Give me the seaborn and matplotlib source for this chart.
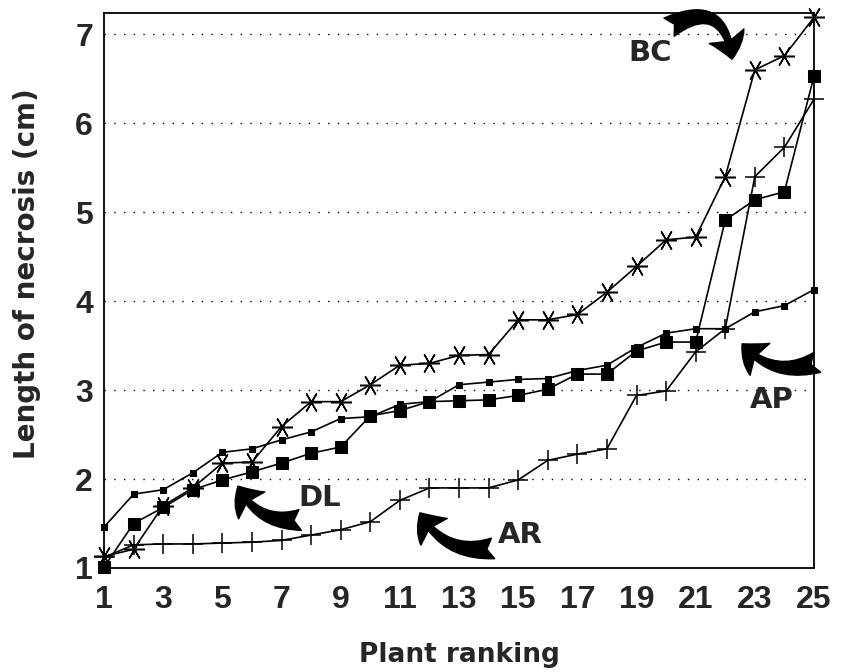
import pandas as pd
import seaborn as sns
import matplotlib.pyplot as plt

# Plant ranking (x) and length of necrosis in cm for each isolate
ranking = list(range(1, 26))
AP = [1.46, 1.83, 1.88, 2.07, 2.30, 2.34, 2.44, 2.53, 2.68, 2.70, 2.84, 2.87, 3.06,
      3.09, 3.12, 3.13, 3.22, 3.28, 3.48, 3.64, 3.69, 3.69, 3.88, 3.95, 4.13]
DL = [1.01, 1.50, 1.68, 1.88, 1.99, 2.08, 2.18, 2.29, 2.36, 2.71, 2.77, 2.87, 2.88,
      2.89, 2.94, 3.01, 3.18, 3.18, 3.44, 3.54, 3.54, 4.91, 5.14, 5.23, 6.53]
BC = [1.13, 1.21, 1.70, 1.90, 2.18, 2.19, 2.59, 2.87, 2.87, 3.06, 3.28, 3.30, 3.39,
      3.40, 3.79, 3.79, 3.85, 4.10, 4.39, 4.69, 4.72, 5.40, 6.60, 6.76, 7.19]
AR = [1.12, 1.26, 1.27, 1.27, 1.28, 1.29, 1.31, 1.37, 1.43, 1.52, 1.76, 1.90, 1.90,
      1.90, 1.99, 2.21, 2.28, 2.34, 2.94, 2.99, 3.43, 3.69, 5.40, 5.73, 6.27]
x_ticks = list(range(1, 26, 2))
y_ticks = [1, 2, 3, 4, 5, 6, 7]

sns.set_theme(style="white")
plt.rcParams['font.family'] = ['Liberation Sans', 'DejaVu Sans']
plt.rcParams['font.weight'] = 'bold'
wide = ['DejaVu Sans']  # the wider face for the axis titles and isolate names

fig = plt.figure(figsize=(8.43, 6.72), dpi=100)
ax = fig.add_axes([0.1234, 0.1548, 0.8422, 0.8259])

styles = {
    'AP': dict(marker='s', markersize=4.5),
    'DL': dict(marker='s', markersize=8),
    'BC': dict(marker=(6, 2, 90), markersize=15, markeredgewidth=1.1),
    'AR': dict(marker='+', markersize=15, markeredgewidth=1.1),
}
series = {'AP': AP, 'DL': DL, 'BC': BC, 'AR': AR}
for name, vals in series.items():
    df = pd.DataFrame({'rank': ranking, 'len': vals})
    sns.lineplot(data=df, x='rank', y='len', ax=ax, color='black', lw=1.2,
                 markeredgecolor='black', markerfacecolor='black', clip_on=False,
                 zorder=3, **styles[name])

ax.set_xlim(1, 25)
ax.set_ylim(1, 7.24)
ax.set_xticks(x_ticks)
ax.set_yticks(y_ticks)
ax.tick_params(axis='x', direction='in', length=9, width=1, color='black',
               labelsize=23, pad=12, labelfontfamily='Liberation Sans')
ax.tick_params(axis='y', length=0, labelsize=23, pad=8, labelfontfamily='Liberation Sans')
for lab in ax.get_xticklabels() + ax.get_yticklabels():
    lab.set_fontweight('bold')
ax.yaxis.grid(True, linestyle=(0, (1, 6)), color='black', lw=1.0)
ax.xaxis.grid(False)
for sp in ax.spines.values():
    sp.set_color('black')
    sp.set_linewidth(1.3)

ax.set_xlabel('Plant ranking', fontsize=19, fontweight='bold', family=wide, labelpad=20)
ax.set_ylabel('Length of necrosis (cm)', fontsize=20, fontweight='bold', family=wide)
ax.yaxis.set_label_coords(-0.089, 0.53)

# Isolate labels
for name, (tx, ty) in {'BC': (19.46, 6.79), 'DL': (8.30, 1.79),
                       'AR': (15.06, 1.37), 'AP': (23.58, 2.89)}.items():
    ax.text(tx, ty, name, fontsize=21, fontweight='bold', family=wide,
            ha='center', va='center')

# Curved arrows pointing to each curve
arrows = [((22.23, 6.72), (20.1, 7.08), -0.75),
          ((22.57, 3.52), (25.10, 3.31), -0.35),
          ((5.53, 1.92), (7.63, 1.54), -0.35),
          ((11.68, 1.62), (14.15, 1.22), -0.35)]
for tip, tail, rad in arrows:
    ax.annotate('', xy=tip, xytext=tail, annotation_clip=False,
                arrowprops=dict(arrowstyle='fancy,head_length=1.7,head_width=2.7,tail_width=1.5',
                                mutation_scale=10, color='black', shrinkA=0, shrinkB=0,
                                connectionstyle=f'arc3,rad={rad}'))

fig.savefig('out.png', dpi=100)
